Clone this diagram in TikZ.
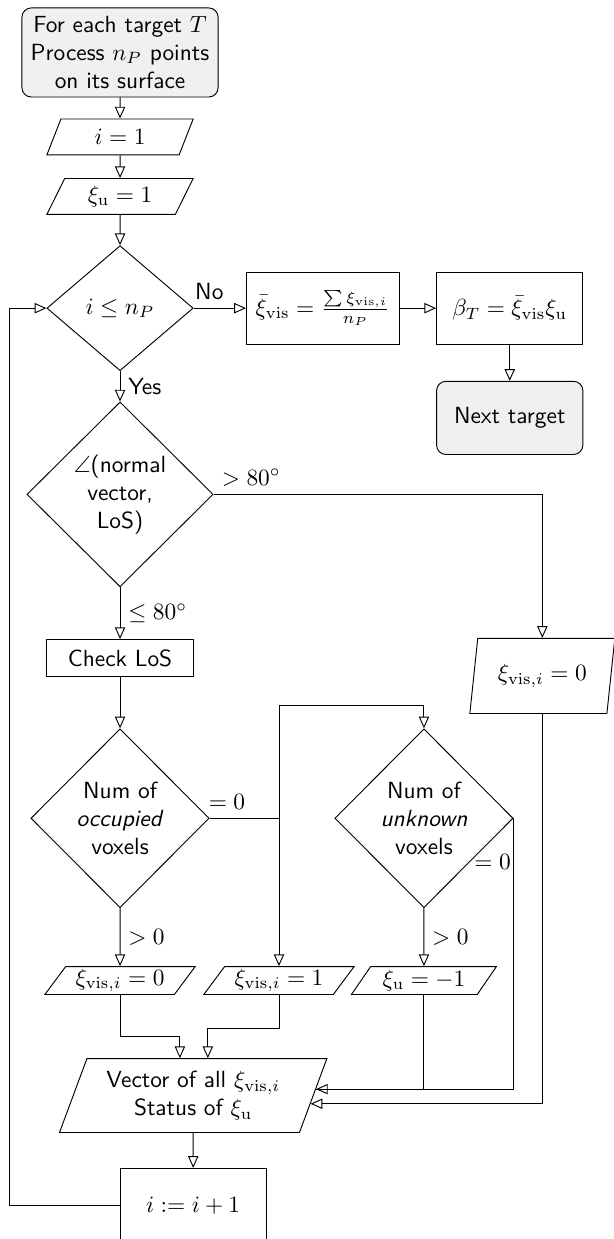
\documentclass[tikz,border=0pt]{standalone}
\usepackage{amsmath,amssymb}
\usepackage{tikz}
\usetikzlibrary{shapes.geometric,arrows.meta}

\begin{document}
\begin{tikzpicture}[node distance=1.5cm, auto, font=\sffamily]
    \tikzstyle{startstop} = [rectangle, draw, rounded corners=4pt, fill=gray!12, align=center]
    \tikzstyle{block} = [rectangle, draw, minimum width=2.2cm, minimum height=0.556cm]
    \tikzstyle{io} = [trapezium, draw, trapezium left angle=55, trapezium right angle=125, trapezium stretches body, inner sep=1pt, align=center, minimum width=2.2cm, minimum height=0.54cm]
    \tikzstyle{decision} = [diamond, draw, align=center, inner sep=1pt, minimum width=2.68cm, minimum height=2.69cm]
    \tikzstyle{arrow} = [-{Triangle[open,length=5pt,width=4.4pt]}]

    \useasboundingbox (-1.805,0.789) rectangle (7.414,-17.842);

    \node [startstop, minimum width=2.95cm, minimum height=1.34cm] (start) {For each target $T$\\Process $n_P$ points\\on its surface};
    \node [io, below of=start, node distance=1.27cm] (init) {$i = 1$};
    \node [io, below of=init, node distance=0.895cm] (unkinit) {$\xi_\mathrm{u} = 1$};
    \node [decision, below of=unkinit, node distance=1.68cm, minimum width=2.2cm, minimum height=1.88cm] (loop) {$i \leq n_P$};
    \node [block, right of=loop, node distance=3.05cm, minimum width=2.3cm, minimum height=1.08cm] (avg) {$\bar{\xi}_\mathrm{vis} = \frac{\sum \xi_{\mathrm{vis},i}}{n_P}$};
    \node [block, right of=avg, node distance=2.81cm, minimum width=2.2cm, minimum height=1.08cm] (beta) {$\beta_T = \bar{\xi}_\mathrm{vis}\xi_\mathrm{u}$};
    \node [startstop, below of=beta, node distance=1.65cm, minimum width=2.2cm, minimum height=1.1cm] (next) {Next target};
    \node [decision, below of=loop, node distance=2.8cm, minimum width=2.8cm, minimum height=2.78cm] (angle) {$\angle$(normal\\vector,\\LoS)};
    \node [io, right of=angle, node distance=6.35cm, yshift=-2.73cm, trapezium left angle=74, trapezium right angle=106, minimum width=2.18cm, minimum height=1.13cm] (vis0r) {$\xi_{\mathrm{vis},i} = 0$};
    \node [block, below of=angle, node distance=2.46cm] (check) {Check LoS};
    \node [decision, below of=check, node distance=2.41cm] (occ) {Num of\\\textit{occupied}\\voxels};
    \node [decision, right of=occ, node distance=4.57cm] (unk) {Num of\\\textit{unknown}\\voxels};
    \node [io, below of=occ, node distance=2.44cm, trapezium left angle=53, trapezium right angle=127, minimum width=2.26cm, minimum height=0.42cm] (vis0) {$\xi_{\mathrm{vis},i} = 0$};
    \node [io, right of=vis0, node distance=2.39cm, trapezium left angle=53, trapezium right angle=127, minimum width=2.26cm, minimum height=0.42cm] (vis1) {$\xi_{\mathrm{vis},i} = 1$};
    \node [io, below of=unk, node distance=2.44cm, trapezium left angle=53, trapezium right angle=127, minimum width=2.18cm, minimum height=0.42cm] (unkset) {$\xi_\mathrm{u} = -1$};
    \node [io, below of=vis0, node distance=1.73cm, xshift=1.1cm, trapezium left angle=63, trapezium right angle=117, minimum width=4.02cm, minimum height=1.11cm] (collect) {Vector of all $\xi_{\mathrm{vis},i}$\\Status of $\xi_\mathrm{u}$};
    \node [block, below of=collect, node distance=1.65cm, minimum width=2.2cm, minimum height=1.11cm] (incr) {$i := i + 1$};

    \draw [arrow] (start) -- (init);
    \draw [arrow] (init) -- (unkinit);
    \draw [arrow] (unkinit) -- (loop);
    \draw [arrow] (loop) -- node[above, pos=0.3] {No} (avg);
    \draw [arrow] (avg) -- (beta);
    \draw [arrow] (beta) -- (next);
    \draw [arrow] (loop) -- node[right] {Yes} (angle);
    \draw [arrow] (angle.east) -| node[above right, pos=0] {$> 80^\circ$} (vis0r.north);
    \draw [arrow] (angle) -- node[right] {$\leq 80^\circ$} (check);
    \draw [arrow] (check) -- (occ);
    \draw [arrow] (occ) -- node[right] {$> 0$} (vis0);
    \coordinate (split) at (vis1.north |- occ.east);
    \draw (occ.east) -- node[above, pos=0.25] {$= 0$} (split);
    \draw [arrow] (split) -- (vis1.north);
    \draw [arrow] (split) |- ([yshift=0.35cm]unk.north) -- (unk.north);
    \draw [arrow] (unk) -- node[right] {$> 0$} (unkset);
    \draw [arrow] (unk.east) |- node[left, pos=0.08, inner sep=1pt] {$= 0$} (collect.3);
    \draw (unkset) |- (collect.3);
    \draw [arrow] (vis0r) |- (collect.-4);
    \draw [arrow] (vis0) |- ([xshift=-0.2cm, yshift=0.33cm]collect.north) -- ([xshift=-0.2cm]collect.north);
    \draw [arrow] (vis1) |- ([xshift=0.22cm, yshift=0.44cm]collect.north) -- ([xshift=0.22cm]collect.north);
    \draw [arrow] (collect) -- (incr);
    \draw [arrow] (incr.west) -- ++(-1.65cm,0) |- (loop.west);
\end{tikzpicture}
\end{document}
